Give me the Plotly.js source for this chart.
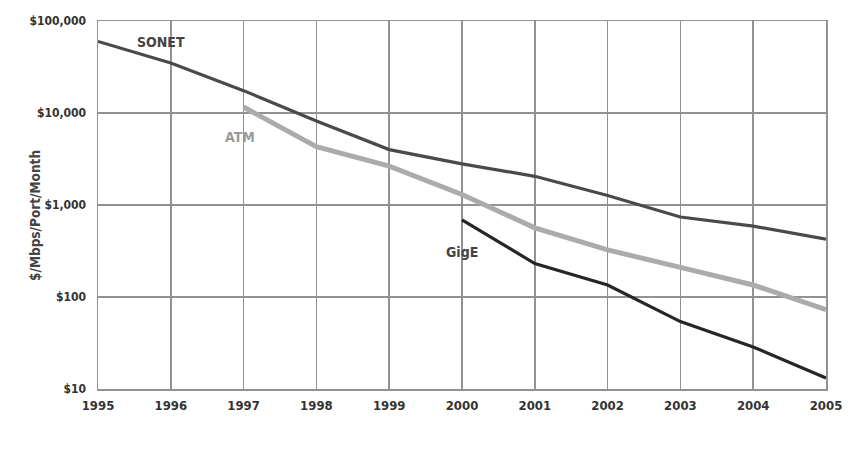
<!DOCTYPE html>
<html>
<head>
<meta charset="utf-8">
<script src="https://cdn.plot.ly/plotly-3.0.1.min.js"></script>
<style>
html,body{margin:0;padding:0;background:#fff;}
#chart{width:851px;height:455px;}
</style>
</head>
<body>
<div id="chart"></div>
<script>
// Data ($/Mbps/Port/Month)
var years = [1995, 1996, 1997, 1998, 1999, 2000, 2001, 2002, 2003, 2004, 2005];
var sonetYears = years;
var sonetValues = [60000, 35000, 17500, 8200, 4000, 2800, 2050, 1270, 740, 590, 425];
var atmYears = [1997, 1998, 1999, 2000, 2001, 2002, 2003, 2004, 2005];
var atmValues = [11600, 4300, 2640, 1300, 565, 325, 210, 135, 73];
var gigeYears = [2000, 2001, 2002, 2003, 2004, 2005];
var gigeValues = [690, 231, 135, 54, 28.6, 13.2];
var yTickVals = [10, 100, 1000, 10000, 100000];
var yTickText = ['$10', '$100', '$1,000', '$10,000', '$100,000'];
var seriesNames = ['SONET', 'ATM', 'GigE'];
var yTitle = '$/Mbps/Port/Month';

var FONT = '"DejaVu Sans Condensed", "DejaVu Sans", sans-serif';

var traces = [
  {x: sonetYears, y: sonetValues, name: seriesNames[0], mode: 'lines',
   line: {color: '#4a4a4a', width: 3.2}},
  {x: atmYears, y: atmValues, name: seriesNames[1], mode: 'lines',
   line: {color: '#ababab', width: 5}},
  {x: gigeYears, y: gigeValues, name: seriesNames[2], mode: 'lines',
   line: {color: '#262626', width: 3.2}}
];

var layout = {
  width: 851, height: 455,
  margin: {l: 98, r: 25, t: 21, b: 66},
  paper_bgcolor: '#ffffff', plot_bgcolor: '#ffffff',
  showlegend: false,
  font: {family: FONT, color: '#333333', size: 12, weight: 'bold'},
  xaxis: {
    range: [1995, 2005], tickmode: 'array', tickvals: years,
    ticktext: years.map(String),
    showgrid: true, gridcolor: '#929292', gridwidth: 1.5,
    showline: true, linecolor: '#929292', linewidth: 1.5, mirror: true,
    zeroline: false, ticks: '', ticklen: 0, ticklabelstandoff: 4,
    tickfont: {family: FONT, size: 13, color: '#333333', weight: 'bold'}
  },
  yaxis: {
    type: 'log', range: [1, 5], tickmode: 'array',
    tickvals: yTickVals, ticktext: yTickText,
    showgrid: true, gridcolor: '#929292', gridwidth: 1.5,
    showline: true, linecolor: '#929292', linewidth: 1.5, mirror: true,
    zeroline: false, ticks: '', ticklen: 0, ticklabelstandoff: 8,
    tickfont: {family: FONT, size: 12, color: '#333333', weight: 'bold'}
  },
  annotations: [
    {x: 25, y: 216, xref: 'paper', yref: 'paper', text: yTitle, textangle: -90,
     showarrow: false, font: {family: FONT, size: 13.5, color: '#444444', weight: 'bold'}},
    {x: 1995.87, y: Math.log10(59000), xref: 'x', yref: 'y', text: seriesNames[0],
     showarrow: false, font: {family: FONT, size: 14, color: '#444444', weight: 'bold'}},
    {x: 1996.95, y: Math.log10(5450), xref: 'x', yref: 'y', text: seriesNames[1],
     showarrow: false, font: {family: FONT, size: 14, color: '#9a9a9a', weight: 'bold'}},
    {x: 2000.0, y: Math.log10(306), xref: 'x', yref: 'y', text: seriesNames[2],
     showarrow: false, font: {family: FONT, size: 14, color: '#444444', weight: 'bold'}}
  ]
};

// convert the pixel-placed y title into paper coordinates
var plotW = layout.width - layout.margin.l - layout.margin.r;
var plotH = layout.height - layout.margin.t - layout.margin.b;
var t = layout.annotations[0];
t.x = (t.x - layout.margin.l) / plotW;
t.y = 1 - (t.y - layout.margin.t) / plotH;

Plotly.newPlot('chart', traces, layout, {displayModeBar: false, staticPlot: true});
</script>
</body>
</html>
